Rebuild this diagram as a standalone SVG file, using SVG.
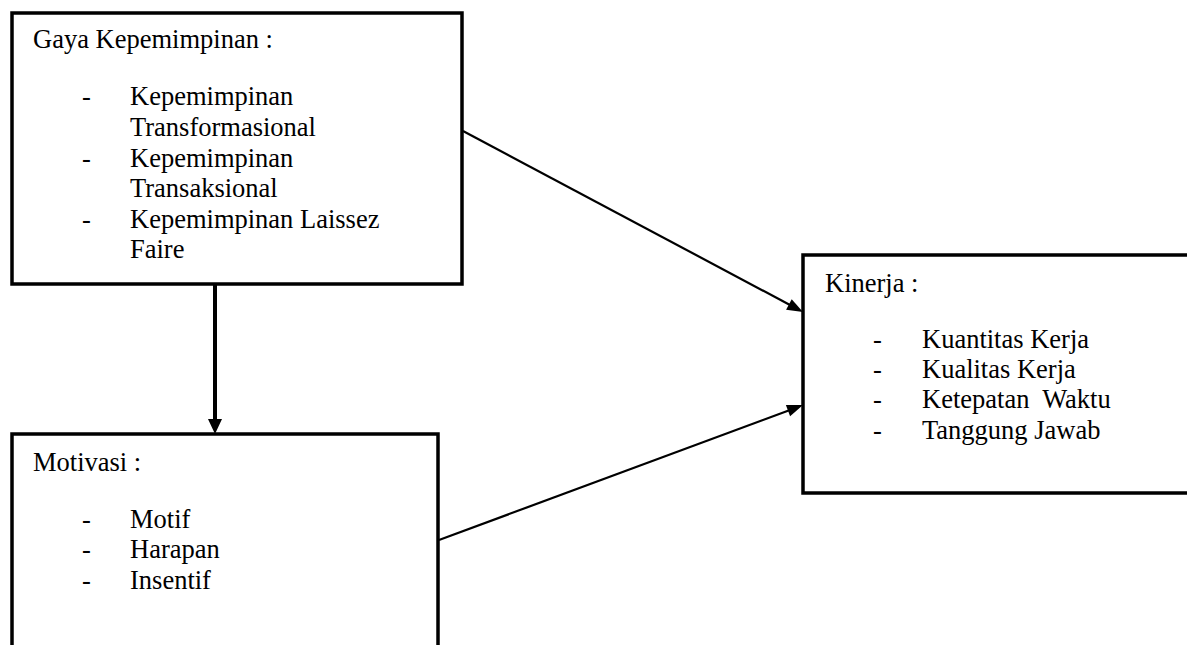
<svg xmlns="http://www.w3.org/2000/svg" width="1187" height="645" viewBox="0 0 1187 645">
<style>
.box{fill:#fff;stroke:#000;stroke-width:3.5}
text{font-family:'Liberation Serif','Times New Roman',Times,serif;font-size:26.5px;fill:#000}
.c{stroke:#000;fill:none}
</style>
<rect width="1187" height="645" fill="#fff"/>
<g id="gaya">
<rect class="box" x="12" y="13" width="450" height="271"/>
<text x="33" y="48">Gaya Kepemimpinan :</text>
<text x="82" y="105">-</text>
<text x="130" y="105">Kepemimpinan</text>
<text x="130" y="136">Transformasional</text>
<text x="82" y="167">-</text>
<text x="130" y="167">Kepemimpinan</text>
<text x="130" y="197">Transaksional</text>
<text x="82" y="228">-</text>
<text x="130" y="228">Kepemimpinan Laissez</text>
<text x="130" y="258">Faire</text>
</g>
<g id="motivasi">
<rect class="box" x="12" y="434" width="426" height="230"/>
<text x="33" y="471">Motivasi :</text>
<text x="82" y="528">-</text>
<text x="130" y="528">Motif</text>
<text x="82" y="558">-</text>
<text x="130" y="558">Harapan</text>
<text x="82" y="589">-</text>
<text x="130" y="589">Insentif</text>
</g>
<g id="kinerja">
<rect class="box" x="803" y="255" width="420" height="238"/>
<text x="825" y="292">Kinerja :</text>
<text x="873" y="348">-</text>
<text x="922" y="348">Kuantitas Kerja</text>
<text x="873" y="378">-</text>
<text x="922" y="378">Kualitas Kerja</text>
<text x="873" y="408">-</text>
<text x="922" y="408" xml:space="preserve">Ketepatan  Waktu</text>
<text x="873" y="439">-</text>
<text x="922" y="439">Tanggung Jawab</text>
</g>
<g id="connectors">
<line class="c" x1="215" y1="285" x2="215" y2="420" stroke-width="4"/>
<path d="M208,419 L222,419 L215,434 Z" fill="#000"/>
<line class="c" x1="463" y1="131" x2="790" y2="305" stroke-width="2.2"/>
<path d="M803,312 L786.1,309.8 L791.7,299.2 Z" fill="#000"/>
<line class="c" x1="439" y1="540" x2="790" y2="410" stroke-width="2.2"/>
<path d="M803,405 L790.1,416.2 L785.9,405 Z" fill="#000"/>
</g>
</svg>
